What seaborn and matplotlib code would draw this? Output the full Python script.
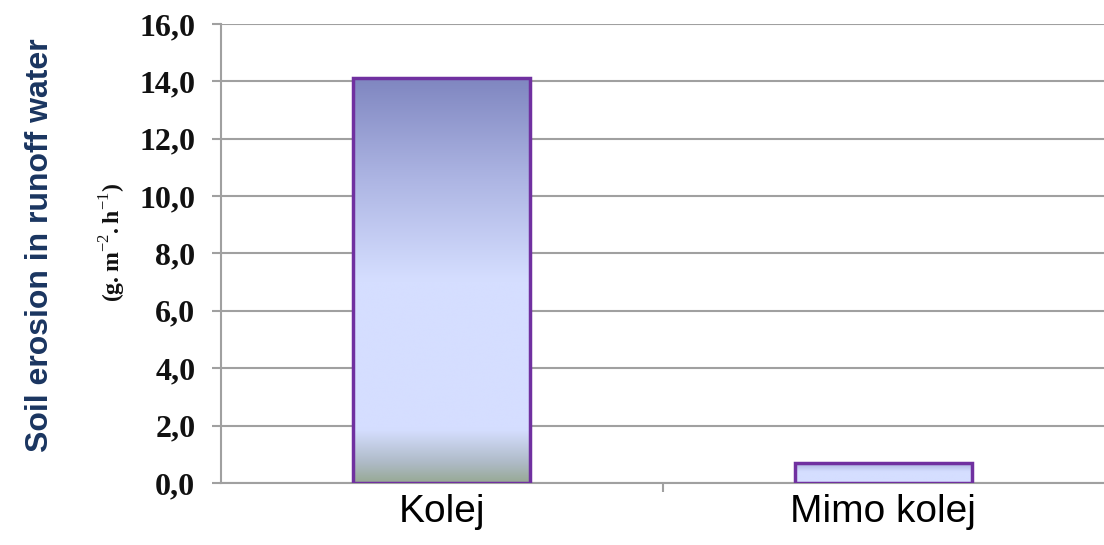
import numpy as np
import pandas as pd
import matplotlib
matplotlib.use("Agg")
import matplotlib.pyplot as plt
from matplotlib.colors import LinearSegmentedColormap
import seaborn as sns

categories = ["Kolej", "Mimo kolej"]
erosion = [14.12, 0.70]
y_ticks = [0, 2, 4, 6, 8, 10, 12, 14, 16]
y_tick_labels = ["0,0", "2,0", "4,0", "6,0", "8,0", "10,0", "12,0", "14,0", "16,0"]

df = pd.DataFrame({"site": categories, "erosion": erosion})

sns.set_theme(style="white")
plt.rcParams["mathtext.fontset"] = "custom"
plt.rcParams["mathtext.rm"] = "Liberation Serif"
plt.rcParams["mathtext.bf"] = "Liberation Serif:bold"

fig = plt.figure(figsize=(11.04, 5.45), dpi=100)
ax = fig.add_axes([0.2002, 0.1138, 0.7998, 0.8422])

sns.barplot(data=df, x="site", y="erosion", ax=ax, width=0.4,
            color="#D5DEFF", edgecolor="#7030A0", linewidth=2.5,
            saturation=1, zorder=3)

# vertical gradient fill: dark lavender top -> pale blue -> grey-green base
grad = LinearSegmentedColormap.from_list(
    "bar_grad",
    [(0.0, "#97A995"), (0.05, "#AFBBC8"), (0.13, "#D5DEFF"),
     (0.50, "#D5DEFF"), (0.75, "#ADB5E3"), (1.0, "#7F86C0")])
grad_small = LinearSegmentedColormap.from_list(
    "bar_grad_small", [(0.0, "#D5DEFF"), (0.55, "#D5DEFF"), (1.0, "#A4ABDA")])

for patch, cmap in zip(ax.patches, [grad, grad_small]):
    patch.set_facecolor("none")
    x0, y0 = patch.get_x(), patch.get_y()
    w, h = patch.get_width(), patch.get_height()
    img = ax.imshow(np.linspace(0, 1, 256).reshape(-1, 1), cmap=cmap,
                    origin="lower", aspect="auto",
                    extent=[x0, x0 + w, y0, y0 + h], zorder=2.9,
                    interpolation="bicubic")
    img.set_clip_path(patch)

ax.set_xlim(-0.5, 1.5)
ax.set_ylim(0, 16)
ax.set_yticks(y_ticks)
ax.set_yticklabels(y_tick_labels, fontfamily="Liberation Serif",
                   fontweight="bold", fontsize=23, color="#111111")
ax.set_xticks([0, 1])
ax.set_xticklabels(categories, fontfamily="Liberation Sans", fontsize=28,
                   color="#000000")
ax.set_xticks([0.5], minor=True)
ax.tick_params(axis="x", which="major", length=0, pad=8)
ax.tick_params(axis="x", which="minor", length=6.5, width=1.5, color="#A0A0A0",
               direction="out", bottom=True)
ax.tick_params(axis="y", which="major", length=6.5, width=1.5, color="#A0A0A0",
               direction="out", left=True, pad=12)

ax.yaxis.grid(True, color="#A0A0A0", linewidth=1.5, zorder=0)
ax.set_axisbelow(True)
for side in ["top", "right"]:
    ax.spines[side].set_visible(False)
for side in ["left", "bottom"]:
    ax.spines[side].set_color("#A0A0A0")
    ax.spines[side].set_linewidth(1.5)

ax.set_xlabel("")
ax.set_ylabel("")

fig.text(0.036, 0.55, "Soil erosion in runoff water", rotation=90,
         ha="center", va="center", fontfamily="Liberation Sans",
         fontweight="bold", fontsize=23, color="#1A3560")
fig.text(0.102, 0.556, r"$\mathbf{(g.m}^{\mathrm{-2}}\mathbf{.h}^{\mathrm{-1}}\mathbf{)}$",
         rotation=90, ha="center", va="center", fontsize=17, color="#111111")

fig.savefig("out.png", dpi=100)
